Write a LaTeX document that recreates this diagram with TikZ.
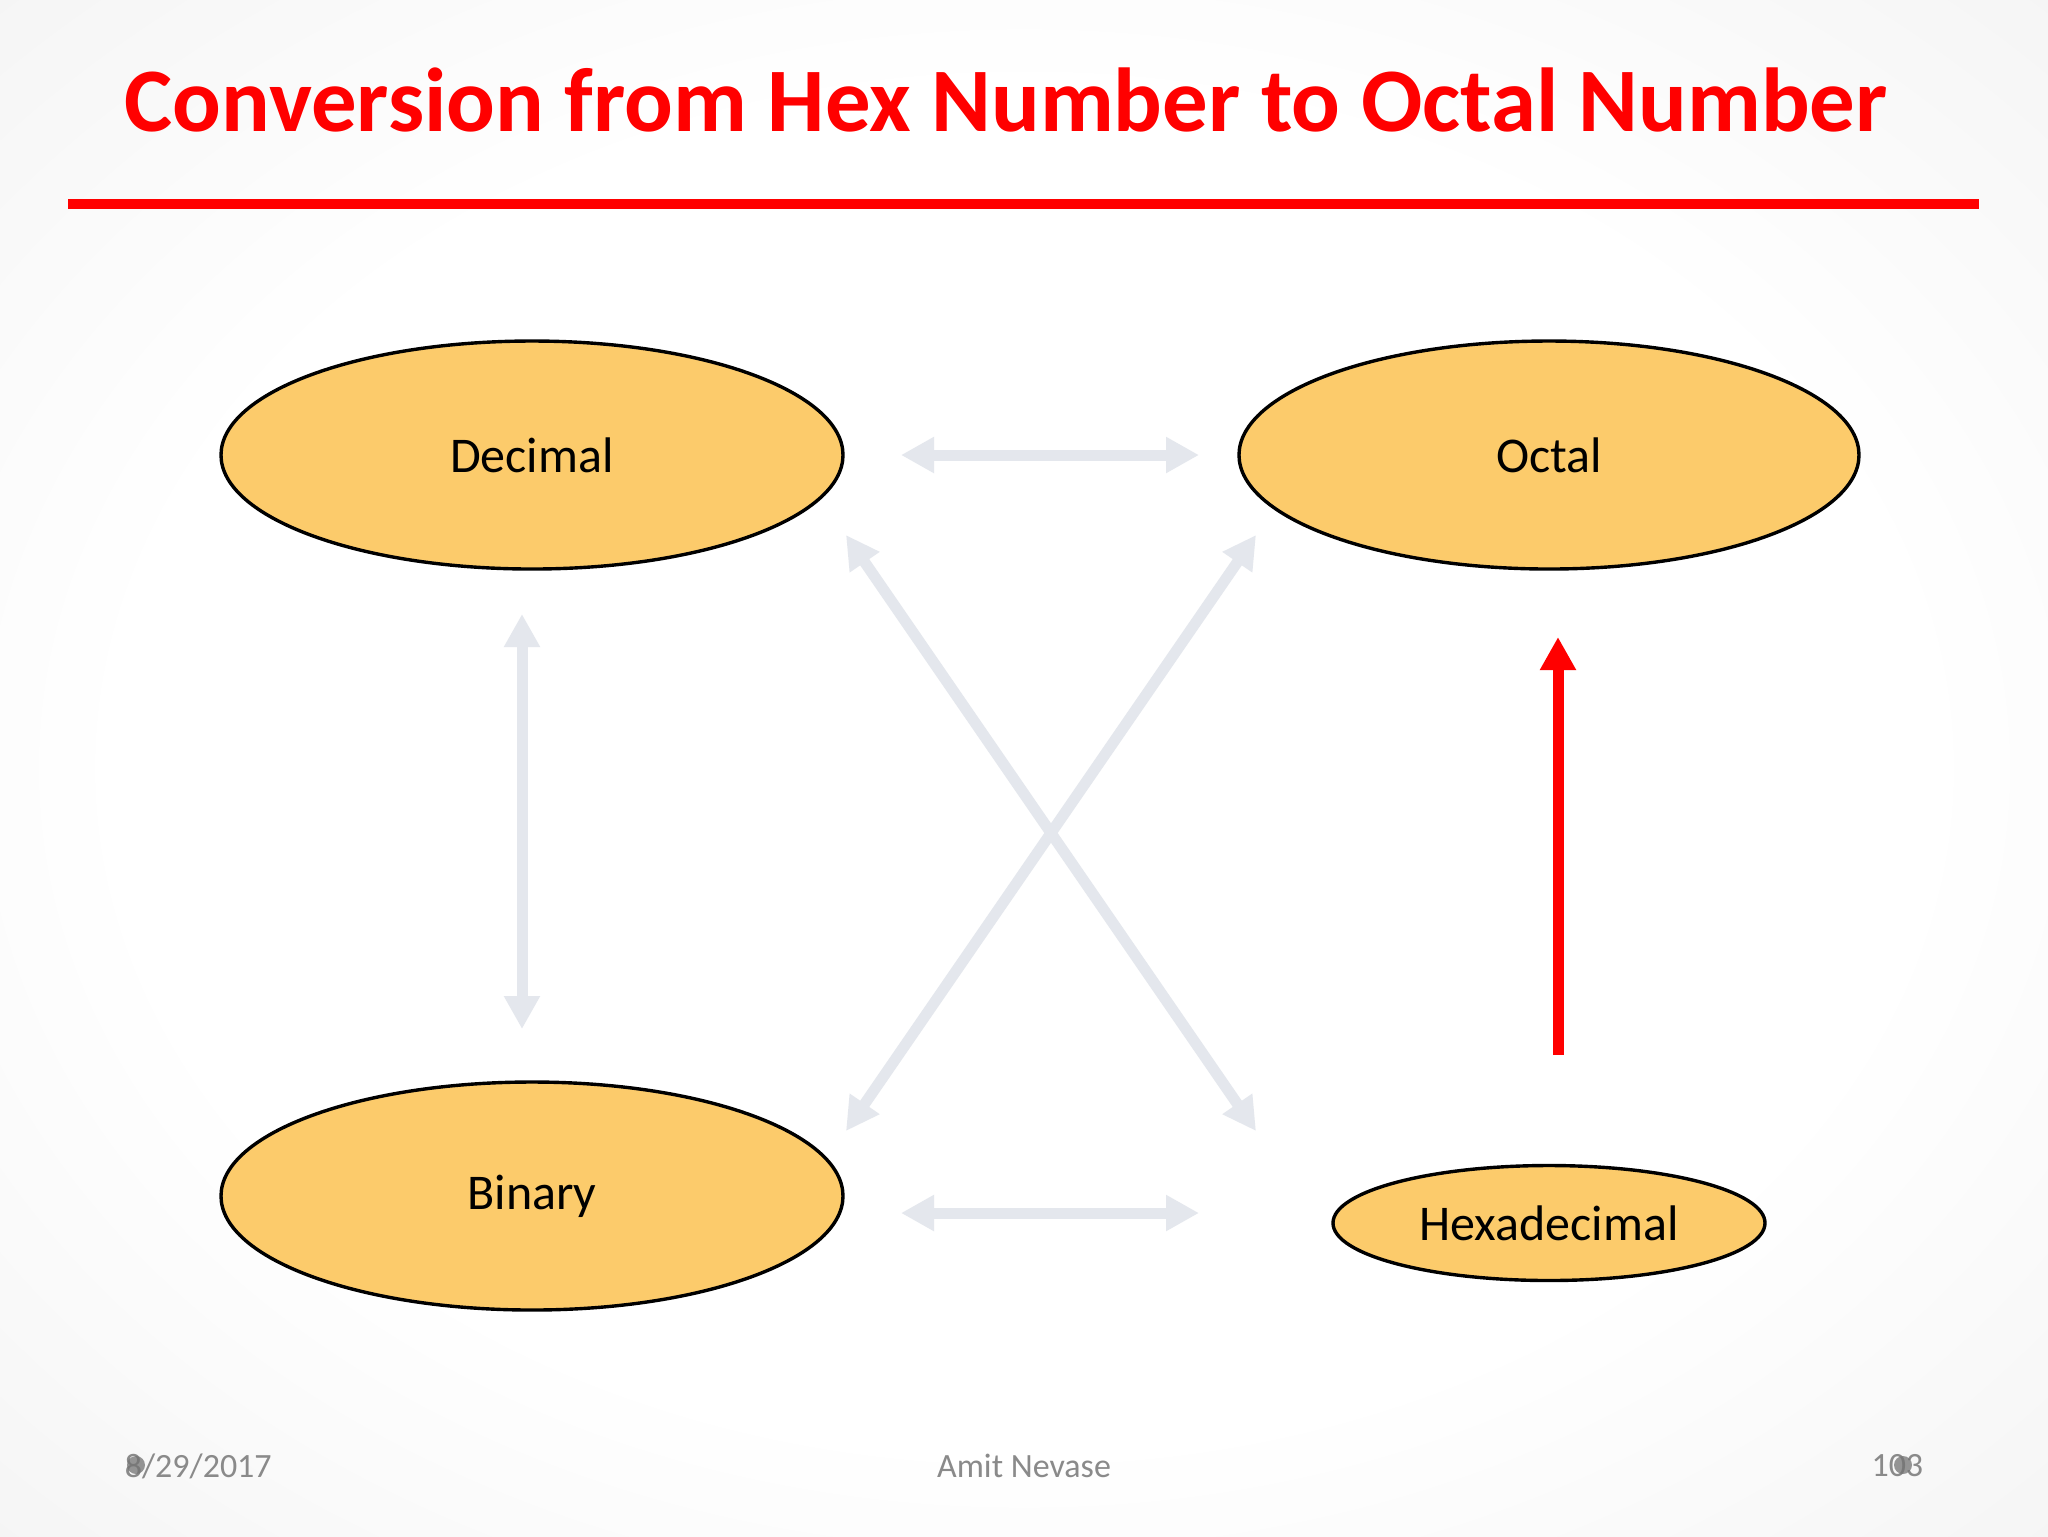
\documentclass[tikz,border=0pt]{standalone}
\usepackage{fontspec}
\setmainfont{Carlito}
\usetikzlibrary{shapes.geometric,arrows.meta}
\definecolor{ellfill}{HTML}{FCCB6B}
\definecolor{arrgray}{HTML}{E4E7ED}
\definecolor{titlered}{HTML}{FF0000}
\definecolor{footgray}{HTML}{8A8A8A}
\pgfdeclareradialshading{slidebg}{\pgfpoint{0bp}{0bp}}{color(0bp)=(white); color(22bp)=(white); color(50bp)=(black!8); color(71bp)=(black!16); color(100bp)=(black!16)}
\tikzset{
  numsys/.style={ellipse, draw=black, line width=0.85pt, fill=ellfill, inner sep=0pt, font=\fontsize{12.5pt}{15pt}\selectfont},
  grayarrow/.style={draw=arrgray, line width=2.75pt, {Triangle[length=8.25pt,width=8.5pt]}-{Triangle[length=8.25pt,width=8.5pt]}},
  redarrow/.style={draw=titlered, line width=2.75pt, -{Triangle[length=8.25pt,width=8.5pt]}},
  footer/.style={text=footgray, font=\fontsize{8.5pt}{10pt}\selectfont, inner sep=0pt},
  blob/.style={fill=black!55, draw=none, opacity=0.75}
}
\begin{document}
\begin{tikzpicture}[x=0.25pt, y=-0.25pt]
\useasboundingbox (0,0) rectangle (2048,1536);
\shade[shading=slidebg] (0,0) rectangle (2048,1536);
% title
\node[anchor=base west, inner sep=0pt, text=titlered, font=\bfseries\fontsize{22.7pt}{27pt}\selectfont] (title) at (124,131) {Conversion from Hex Number to Octal Number};
\coordinate (ruleL) at (68,204);
\coordinate (ruleR) at (1979,204);
\draw[titlered, line width=2.3pt] (ruleL) -- (ruleR);
% ellipses
\node[numsys, minimum width=155.5pt, minimum height=57pt] (dec) at (532,455) {Decimal};
\node[numsys, minimum width=155pt, minimum height=57pt] (oct) at (1549,455) {Octal};
\node[numsys, minimum width=155.5pt, minimum height=57pt] (bin) at (532,1196) {Binary};
\node[numsys, minimum width=108pt, minimum height=28.75pt] (hex) at (1549,1223) {Hexadecimal};
% arrow endpoints
\coordinate (t1) at (901,455);
\coordinate (t2) at (1199,455);
\coordinate (b1) at (901,1213);
\coordinate (b2) at (1199,1213);
\coordinate (v1) at (522,614);
\coordinate (v2) at (522,1029);
\coordinate (d1a) at (846,535);
\coordinate (d1b) at (1256,1131);
\coordinate (d2a) at (1256,535);
\coordinate (d2b) at (846,1131);
\coordinate (r1) at (1558,1055);
\coordinate (r2) at (1558,637);
\draw[grayarrow] (t1) -- (t2);
\draw[grayarrow] (b1) -- (b2);
\draw[grayarrow] (v1) -- (v2);
\draw[grayarrow] (d1a) -- (d1b);
\draw[grayarrow] (d2a) -- (d2b);
\draw[redarrow] (r1) -- (r2);
% footer
\node[footer, anchor=west] (date) at (124,1466) {8/29/2017};
\node[footer] (author) at (1024,1466) {Amit Nevase};
\node[footer, anchor=east] (page) at (1924,1466) {103};
\fill[blob] (136,1465) circle (9);
\fill[blob] (1903,1465) circle (9);
\end{tikzpicture}
\end{document}
